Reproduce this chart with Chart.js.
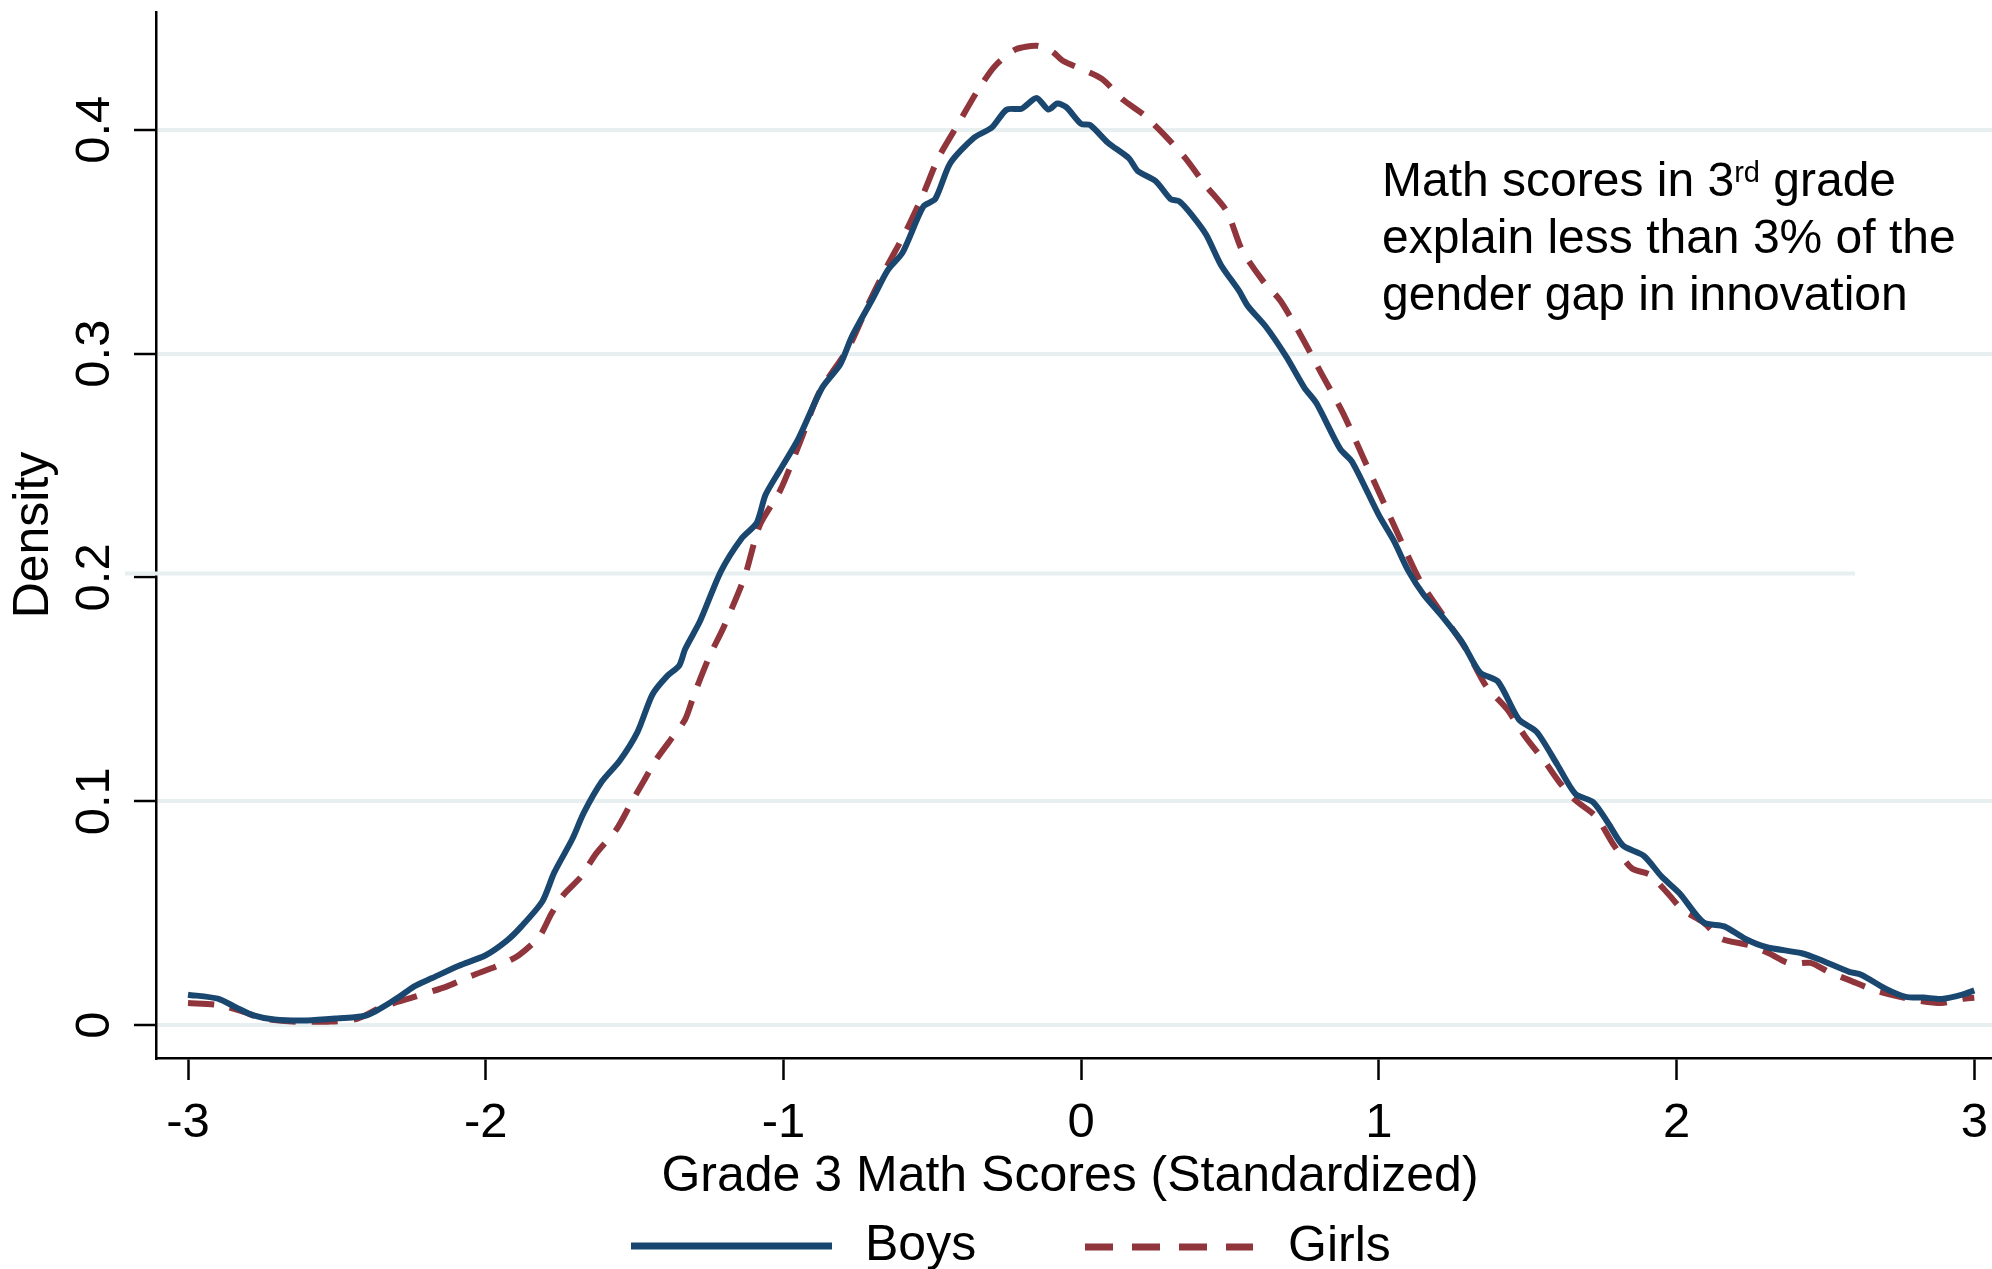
<!DOCTYPE html>
<html>
<head>
<meta charset="utf-8">
<script src="https://cdn.jsdelivr.net/npm/chart.js@4.4.0/dist/chart.umd.min.js"></script>
<style>
  html, body { margin: 0; padding: 0; background: #fff; }
  #wrap { width: 1992px; height: 1269px; position: relative; }
</style>
</head>
<body>
<div id="wrap"><canvas id="chart"></canvas></div>
<script>
// kernel density of grade 3 math scores
const boysX = [-3.0, -2.9, -2.84, -2.78, -2.71, -2.6, -2.5, -2.4, -2.3, -2.24, -2.18, -2.09, -2.0, -1.93, -1.88, -1.81, -1.77, -1.71, -1.67, -1.61,
  -1.55, -1.49, -1.44, -1.39, -1.35, -1.33, -1.28, -1.21, -1.14, -1.09, -1.06, -1.01, -0.95, -0.87, -0.81, -0.77, -0.70, -0.65, -0.60, -0.53,
  -0.49, -0.44, -0.36, -0.30, -0.25, -0.20, -0.15, -0.11, -0.08, -0.05, 0.0, 0.03, 0.09, 0.16, 0.19, 0.25, 0.30, 0.33, 0.37, 0.42,
  0.47, 0.53, 0.56, 0.62, 0.69, 0.75, 0.79, 0.87, 0.91, 1.0, 1.05, 1.10, 1.15, 1.21, 1.28, 1.34, 1.40, 1.47, 1.53, 1.60,
  1.66, 1.72, 1.77, 1.82, 1.89, 1.95, 2.01, 2.09, 2.16, 2.23, 2.30, 2.42, 2.48, 2.58, 2.62, 2.70, 2.77, 2.83, 2.89, 2.96, 3.0];
const boysY = [0.0136, 0.0118, 0.0080, 0.0043, 0.0025, 0.0021, 0.0030, 0.0043, 0.0118, 0.0173, 0.0210, 0.0265, 0.0312, 0.0376, 0.0441, 0.0552, 0.0681, 0.0829, 0.0950, 0.1088,
  0.1181, 0.1310, 0.1477, 0.1560, 0.1606, 0.1680, 0.1805, 0.2027, 0.2175, 0.2243, 0.2369, 0.2483, 0.2619, 0.2847, 0.2950, 0.3076, 0.3246, 0.3372, 0.3451, 0.3657,
  0.3691, 0.3850, 0.3964, 0.4010, 0.4090, 0.4094, 0.4142, 0.4090, 0.4117, 0.4101, 0.4026, 0.4021, 0.3942, 0.3873, 0.3816, 0.3771, 0.3691, 0.3680, 0.3622, 0.3531,
  0.3395, 0.3281, 0.3212, 0.3121, 0.2984, 0.2847, 0.2779, 0.2574, 0.2517, 0.2278, 0.2164, 0.2027, 0.1924, 0.1830, 0.1710, 0.1575, 0.1535, 0.1366, 0.1310, 0.1162,
  0.1033, 0.0996, 0.0903, 0.0802, 0.0756, 0.0663, 0.0589, 0.0459, 0.0441, 0.0386, 0.0349, 0.0321, 0.0293, 0.0238, 0.0225, 0.0164, 0.0126, 0.0123, 0.0117, 0.0136, 0.0155];

const girlsX = [-3.0, -2.9, -2.82, -2.75, -2.65, -2.52, -2.43, -2.35, -2.24, -2.13, -2.05, -1.96, -1.89, -1.82, -1.78, -1.74, -1.68, -1.63, -1.56, -1.51,
  -1.47, -1.43, -1.38, -1.33, -1.30, -1.25, -1.20, -1.13, -1.08, -1.01, -0.94, -0.88, -0.78, -0.71, -0.65, -0.59, -0.53, -0.48, -0.41, -0.35,
  -0.29, -0.22, -0.15, -0.10, -0.06, 0.0, 0.07, 0.14, 0.21, 0.28, 0.35, 0.42, 0.49, 0.54, 0.61, 0.67, 0.74, 0.81, 0.88, 0.95,
  1.02, 1.09, 1.14, 1.22, 1.29, 1.36, 1.43, 1.49, 1.56, 1.61, 1.66, 1.73, 1.79, 1.85, 1.91, 1.97, 2.02, 2.09, 2.15, 2.24,
  2.31, 2.38, 2.45, 2.51, 2.58, 2.66, 2.75, 2.82, 2.89, 2.96, 3.0];
const girlsY = [0.0099, 0.0090, 0.0062, 0.0030, 0.0016, 0.0016, 0.0029, 0.0080, 0.0126, 0.0173, 0.0219, 0.0265, 0.0311, 0.0395, 0.0496, 0.0580, 0.0663, 0.0765, 0.0876, 0.0996,
  0.1088, 0.1181, 0.1273, 0.1366, 0.1477, 0.1643, 0.1780, 0.2004, 0.2232, 0.2391, 0.2619, 0.2825, 0.3030, 0.3235, 0.3395, 0.3543, 0.3714, 0.3873, 0.4033, 0.4170,
  0.4284, 0.4359, 0.4375, 0.4352, 0.4307, 0.4272, 0.4227, 0.4135, 0.4067, 0.3976, 0.3873, 0.3748, 0.3634, 0.3463, 0.3326, 0.3235, 0.3076, 0.2904, 0.2733, 0.2528,
  0.2323, 0.2118, 0.1981, 0.1822, 0.1685, 0.1515, 0.1412, 0.1292, 0.1172, 0.1079, 0.1005, 0.0931, 0.0802, 0.0700, 0.0672, 0.0589, 0.0515, 0.0459, 0.0386, 0.0358,
  0.0321, 0.0275, 0.0278, 0.0238, 0.0201, 0.0158, 0.0126, 0.0108, 0.0099, 0.0117, 0.0122];

const xTicks = [-3, -2, -1, 0, 1, 2, 3];
const yTicks = [0, 0.1, 0.2, 0.3, 0.4];
const seriesNames = ["Boys", "Girls"];
const xTitle = "Grade 3 Math Scores (Standardized)";
const yTitle = "Density";

const FONT = '"Liberation Sans", Arial, sans-serif';
const NAVY = "#1a476f";
const MAROON = "#90353b";
const GRID = "#e8eff1";
const DASH = [26, 16];

const toPoints = (xs, ys) => xs.map((x, i) => ({ x, y: ys[i] }));

// the 0.2 gridline in the source is shifted a little and cut short on the right
const oddGrid = {
  id: "oddGrid",
  beforeDatasetsDraw(chart) {
    const { ctx, chartArea, scales } = chart;
    const py = scales.y.getPixelForValue(0.2) - 4;
    ctx.save();
    ctx.strokeStyle = GRID;
    ctx.lineWidth = 4;
    ctx.beginPath();
    ctx.moveTo(chartArea.left - 31, py);
    ctx.lineTo(scales.x.getPixelForValue(2.6), py);
    ctx.stroke();
    ctx.restore();
  },
};

// text that chart.js can't place the way Stata does: rotated y labels, titles, legend, note
const overlay = {
  id: "overlay",
  afterDraw(chart) {
    const { ctx, chartArea, scales } = chart;
    ctx.save();
    ctx.fillStyle = "#000";
    ctx.textBaseline = "alphabetic";

    ctx.font = `49px ${FONT}`;
    ctx.textAlign = "center";
    yTicks.forEach((v) => {
      const py = scales.y.getPixelForValue(v);
      ctx.save();
      ctx.translate(109, py);
      ctx.rotate(-Math.PI / 2);
      ctx.fillText(String(v), 0, 0);
      ctx.restore();
    });

    ctx.font = `50px ${FONT}`;
    ctx.save();
    ctx.translate(48, (chartArea.top + chartArea.bottom) / 2);
    ctx.rotate(-Math.PI / 2);
    ctx.fillText(yTitle, 0, 0);
    ctx.restore();

    ctx.fillText(xTitle, (chartArea.left + chartArea.right) / 2 - 4, 1191);

    // legend
    const ds = chart.data.datasets;
    ctx.textAlign = "left";
    ctx.lineWidth = 7;
    ctx.strokeStyle = ds[0].borderColor;
    ctx.beginPath();
    ctx.moveTo(631, 1246);
    ctx.lineTo(832, 1246);
    ctx.stroke();
    ctx.fillText(ds[0].label, 865, 1260);

    ctx.strokeStyle = ds[1].borderColor;
    ctx.setLineDash([28, 19]);
    ctx.beginPath();
    ctx.moveTo(1085, 1247);
    ctx.lineTo(1253, 1247);
    ctx.stroke();
    ctx.setLineDash([]);
    ctx.fillText(ds[1].label, 1288, 1261);

    // note
    const nx = 1382;
    ctx.font = `48px ${FONT}`;
    let first = "Math scores in 3";
    ctx.fillText(first, nx, 196);
    let w = ctx.measureText(first).width;
    ctx.font = `29px ${FONT}`;
    ctx.fillText("rd", nx + w, 182);
    w += ctx.measureText("rd").width;
    ctx.font = `48px ${FONT}`;
    ctx.fillText(" grade", nx + w, 196);
    ctx.fillText("explain less than 3% of the", nx, 253);
    ctx.fillText("gender gap in innovation", nx, 310);

    ctx.restore();
  },
};

new Chart(document.getElementById("chart"), {
  type: "scatter",
  data: {
    datasets: [
      {
        label: seriesNames[0],
        data: toPoints(boysX, boysY),
        showLine: true,
        borderColor: NAVY,
        borderWidth: 6,
        pointRadius: 0,
        tension: 0.25,
      },
      {
        label: seriesNames[1],
        data: toPoints(girlsX, girlsY),
        showLine: true,
        borderColor: MAROON,
        borderWidth: 6,
        borderDash: DASH,
        pointRadius: 0,
        tension: 0.25,
      },
    ],
  },
  options: {
    responsive: true,
    maintainAspectRatio: false,
    animation: false,
    layout: { padding: { top: 12, right: 0, bottom: 0, left: 0 } },
    plugins: {
      legend: { display: false },
      tooltip: { enabled: false },
    },
    scales: {
      x: {
        type: "linear",
        min: -3.1075,
        max: 3.0595,
        afterBuildTicks: (s) => { s.ticks = xTicks.map((v) => ({ value: v })); },
        afterFit: (s) => { s.height = 211; s.paddingLeft = 0; s.paddingRight = 0; },
        grid: {
          drawOnChartArea: false,
          drawTicks: true,
          tickLength: 22,
          tickColor: "#000",
          tickWidth: 2.5,
        },
        border: { display: true, color: "#000", width: 2.5 },
        ticks: {
          color: "#000",
          padding: 14,
          maxRotation: 0,
          font: { family: FONT, size: 49 },
        },
      },
      y: {
        type: "linear",
        min: -0.0147,
        max: 0.4526,
        afterBuildTicks: (s) => { s.ticks = yTicks.map((v) => ({ value: v })); },
        afterFit: (s) => { s.width = 156; s.paddingTop = 0; s.paddingBottom = 0; },
        grid: {
          color: (c) => (c.tick && c.tick.value === 0.2 ? "rgba(0,0,0,0)" : GRID),
          lineWidth: 4,
          drawTicks: true,
          tickLength: 22,
          tickColor: "#000",
          tickWidth: 2.5,
        },
        border: { display: true, color: "#000", width: 2.5 },
        ticks: { display: false },
      },
    },
  },
  plugins: [oddGrid, overlay],
});
</script>
</body>
</html>
